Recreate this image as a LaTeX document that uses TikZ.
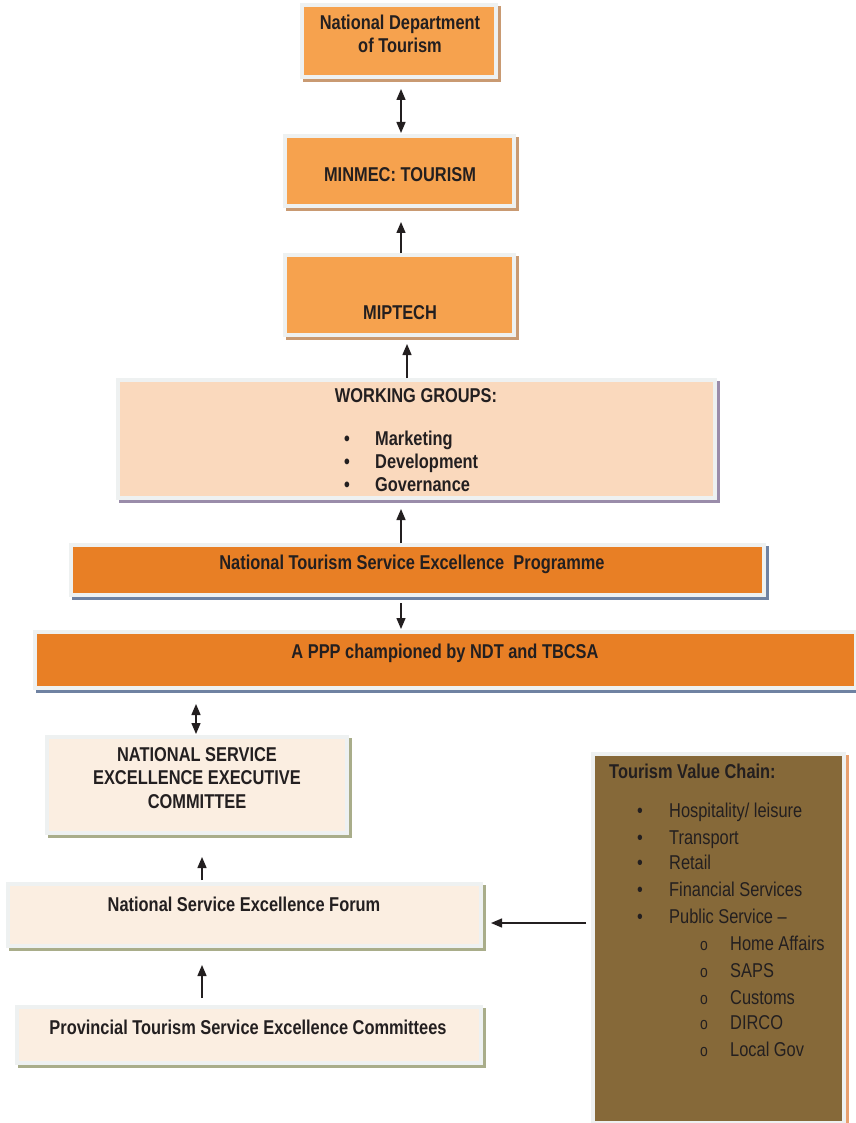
\documentclass[tikz,border=0pt]{standalone}
\usepackage{fontspec}
\setmainfont[FakeStretch=0.82]{Liberation Sans}
\usetikzlibrary{arrows.meta}
\definecolor{orL}{HTML}{F6A24E}
\definecolor{orD}{HTML}{E87F25}
\definecolor{peach}{HTML}{FAD9BD}
\definecolor{cream}{HTML}{FBEEE1}
\definecolor{brownbox}{HTML}{866939}
\definecolor{frameC}{HTML}{EEF1F1}
\definecolor{shBrown}{HTML}{C99A72}
\definecolor{shPurple}{HTML}{9A8CAA}
\definecolor{shBlue}{HTML}{6F82A2}
\definecolor{shOlive}{HTML}{A9AD8A}
\definecolor{shOrange}{HTML}{E8A070}
\definecolor{txt}{HTML}{231F20}
\tikzset{
  box/.style 2 args={rectangle, fill=#1, draw=frameC, line width=4pt,
    inner sep=0pt, preaction={draw=#2, fill=#2, line width=4pt,
    transform canvas={shift={(2.5pt,-3pt)}}}},
  arr/.style={draw=txt, line width=1.4pt, -{Triangle[length=11pt,width=9pt]}},
  dbl/.style={draw=txt, line width=1.4pt, {Triangle[length=11pt,width=9pt]}-{Triangle[length=11pt,width=9pt]}},
  ttl/.style={text=txt, font=\bfseries\fontsize{20}{23.5}\selectfont, align=center, inner sep=0pt},
  itm/.style={text=txt, font=\fontsize{20}{24}\selectfont, anchor=base west, inner sep=0pt},
  bitm/.style={text=txt, font=\bfseries\fontsize{20}{24}\selectfont, anchor=base west, inner sep=0pt}
}
\begin{document}
\begin{tikzpicture}[x=1pt,y=-1pt]
\useasboundingbox[fill=white] (0,0) rectangle (855,1123);
% boxes
\node[box={orL}{shBrown}, minimum width=194, minimum height=72] (ndt) at (399,41) {};
\node[box={orL}{shBrown}, minimum width=229, minimum height=70] (minmec) at (399.5,171) {};
\node[box={orL}{shBrown}, minimum width=229, minimum height=80] (miptech) at (399.5,295) {};
\node[box={peach}{shPurple}, minimum width=597, minimum height=118] (wg) at (416.5,439) {};
\node[box={orD}{shBlue}, minimum width=693, minimum height=50] (ntsep) at (417.5,570) {};
\node[box={orD}{shBlue}, minimum width=821, minimum height=56] (ppp) at (445.5,660) {};
\node[box={cream}{shOlive}, minimum width=300, minimum height=96] (nseec) at (197,785) {};
\node[box={cream}{shOlive}, minimum width=473, minimum height=62] (nsef) at (244.5,915) {};
\node[box={cream}{shOlive}, minimum width=464, minimum height=56] (prov) at (249,1035) {};
\node[box={brownbox}{shOrange}, minimum width=251, minimum height=369] (tvc) at (718.5,938) {};
% texts
\node[ttl] (t1) at (400,34) {National Department\\of Tourism};
\node[ttl] (t2) at (400,175) {MINMEC: TOURISM};
\node[ttl] (t3) at (400,313) {MIPTECH};
\node[ttl] (t4) at (416,396) {WORKING GROUPS:};
\node[bitm] (w1b) at (344,445) {•};
\node[bitm] (w1) at (375,445) {Marketing};
\node[bitm] (w2b) at (344,468) {•};
\node[bitm] (w2) at (375,468) {Development};
\node[bitm] (w3b) at (344,491) {•};
\node[bitm] (w3) at (375,491) {Governance};
\node[ttl] (t5) at (412,564) {National Tourism Service Excellence\ \ Programme};
\node[ttl] (t6) at (445,653) {A PPP championed by NDT and TBCSA};
\node[ttl] (t7) at (197,778) {NATIONAL SERVICE\\EXCELLENCE EXECUTIVE\\COMMITTEE};
\node[ttl] (t8) at (244,904) {National Service Excellence Forum};
\node[ttl] (t9) at (248,1027) {Provincial Tourism Service Excellence Committees};
\node[bitm] (v0) at (609,778) {Tourism Value Chain:};
\foreach \y/\t [count=\i] in {817/{Hospitality/ leisure}, 844/Transport, 869/Retail, 896/Financial Services, 923/Public Service –}{
  \node[itm] (vb\i) at (637,\y) {•};
  \node[itm] (v\i) at (669,\y) {\t};
}
\foreach \y/\t [count=\i] in {950/Home Affairs, 977/SAPS, 1004/Customs, 1029/DIRCO, 1056/Local Gov}{
  \node[itm, font=\fontsize{17}{18}\selectfont] (sb\i) at (700,\y) {o};
  \node[itm] (s\i) at (730,\y) {\t};
}
% connectors
\draw[dbl] ([xshift=2pt,yshift=-10pt]ndt.south) -- ([xshift=1.5pt,yshift=1pt]minmec.north);
\draw[arr] ([xshift=1.5pt]miptech.north) -- ([xshift=1.5pt,yshift=-14pt]minmec.south);
\draw[arr] ([xshift=-9.5pt]wg.north) -- ([xshift=7.5pt,yshift=-7pt]miptech.south);
\draw[arr] ([xshift=-16.5pt]ntsep.north) -- ([xshift=-15.5pt,yshift=-9pt]wg.south);
\draw[arr] ([xshift=-16.5pt,yshift=-6pt]ntsep.south) -- ([xshift=-44.5pt,yshift=1pt]ppp.north);
\draw[dbl] ([xshift=-249.5pt,yshift=-14pt]ppp.south) -- ([xshift=-1pt,yshift=1pt]nseec.north);
\draw[arr] ([xshift=-42.5pt,yshift=2pt]nsef.north) -- ([xshift=5pt,yshift=-22pt]nseec.south);
\draw[arr] ([xshift=-47pt,yshift=7pt]prov.north) -- ([xshift=-42.5pt,yshift=-17pt]nsef.south);
\draw[arr] ([xshift=-5pt,yshift=15pt]tvc.west) -- ([xshift=8pt,yshift=-8pt]nsef.east);
\end{tikzpicture}
\end{document}
